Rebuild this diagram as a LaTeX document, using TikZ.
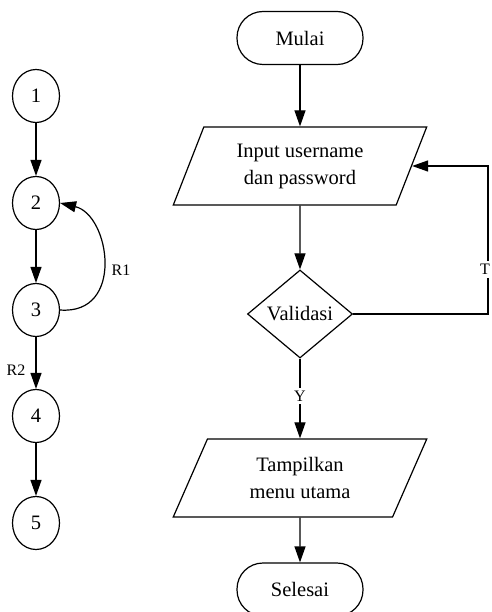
\documentclass[tikz,border=0pt]{standalone}
\usepackage{fontspec}
\setmainfont{Liberation Serif}
\usetikzlibrary{arrows.meta,shapes.geometric}
\begin{document}
\begin{tikzpicture}[x=1pt,y=-1pt,
  line width=1.2pt,
  txt/.style={font=\fontsize{20.5}{27}\selectfont, align=center},
  lbl/.style={font=\fontsize{16}{19}\selectfont},
  vertex/.style={ellipse, draw, minimum width=47pt, minimum height=53pt, inner sep=0pt, txt},
  terminal/.style={rectangle, draw, rounded corners=26pt, minimum width=126pt, minimum height=53pt, txt},
  io/.style={trapezium, draw, trapezium left angle=65.8, trapezium right angle=114.2,
    trapezium stretches=true, minimum width=254pt, minimum height=78pt, inner sep=0pt, txt},
  decision/.style={diamond, draw, minimum width=105pt, minimum height=88pt, inner sep=0pt, txt},
  flow/.style={-{Triangle[length=16pt,width=11pt]}},
  gap/.style={fill=white, inner sep=3pt}
]
\useasboundingbox (0,0) rectangle (491,612);

% flow graph
\node[vertex] (v1) at (36,96) {1};
\node[vertex] (v2) at (36,203) {2};
\node[vertex] (v3) at (36,310) {3};
\node[vertex] (v4) at (36,416) {4};
\node[vertex] (v5) at (36,523) {5};

\draw[flow] (v1) -- (v2);
\draw[flow] (v2) -- (v3);
\draw[flow] (v3) -- (v4);
\draw[flow] (v4) -- (v5);
\draw[flow] (v3.east) .. controls (125,315) and (110,215) .. (v2.east);
\node[lbl] (r1) at (121,270) {R1};
\node[lbl] (r2) at (16,370) {R2};

% flowchart
\node[terminal] (start) at (300,38) {Mulai};
\node[io] (input) at (300,166) {Input username\\dan password};
\node[decision] (valid) at (300,314) {Validasi};
\node[io] (menu) at (300,478) {Tampilkan\\menu utama};
\node[terminal] (stop) at (300,589.5) {Selesai};

\coordinate (loop) at (488,314);

\draw[flow] (start) -- (input);
\draw[flow] (input) -- (valid);
\draw[flow] (valid) -- node[lbl, gap, pos=0.47] (yes) {Y} (menu);
\draw[flow] (menu) -- (stop);
\draw[flow] (valid.east) -- (loop) -- node[lbl, gap, pos=0.3, xshift=-3pt] (no) {T} (loop |- input.east) -- (input.east);
\end{tikzpicture}
\end{document}
